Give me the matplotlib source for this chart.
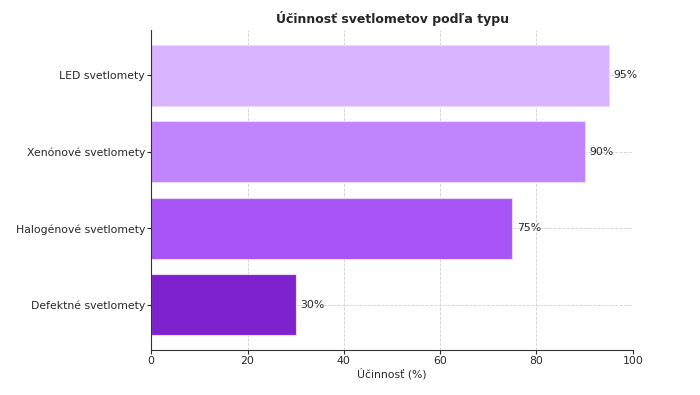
import matplotlib
matplotlib.use("Agg")
import matplotlib.pyplot as plt

plt.rcParams["font.family"] = ["DejaVu Sans"]

categories = ["Defektné svetlomety", "Halogénové svetlomety", "Xenónové svetlomety", "LED svetlomety"]
values = [30, 75, 90, 95]
colors = ["#7e22ce", "#a855f7", "#c084fc", "#d8b4fe"]

TEXT = "#262626"
FS = 7.8

fig = plt.figure(figsize=(7.0, 3.95), dpi=100)
ax = fig.add_axes([0.216, 0.114, 0.688, 0.81])

bars = ax.barh(categories, values, height=0.8, color=colors, edgecolor="#ead9fb", linewidth=0.8, zorder=2)
for bar, v in zip(bars, values):
    ax.text(v + 1, bar.get_y() + bar.get_height() / 2, f"{v}%",
            va="center", ha="left", fontsize=FS, color=TEXT)

ax.set_xlim(0, 100)
ax.set_title("Účinnosť svetlometov podľa typu", fontsize=9, fontweight="bold", color=TEXT, pad=5)
ax.set_xlabel("Účinnosť (%)", fontsize=FS, color=TEXT, labelpad=1.5)
ax.grid(True, linestyle="--", linewidth=0.6, color="#d0d0d0", zorder=0)
ax.set_axisbelow(True)
ax.tick_params(labelsize=FS, colors=TEXT, length=3, pad=1.5)
for s in ["top", "right"]:
    ax.spines[s].set_visible(False)
for s in ["left", "bottom"]:
    ax.spines[s].set_color("#333333")

fig.savefig("out.png", dpi=100)
